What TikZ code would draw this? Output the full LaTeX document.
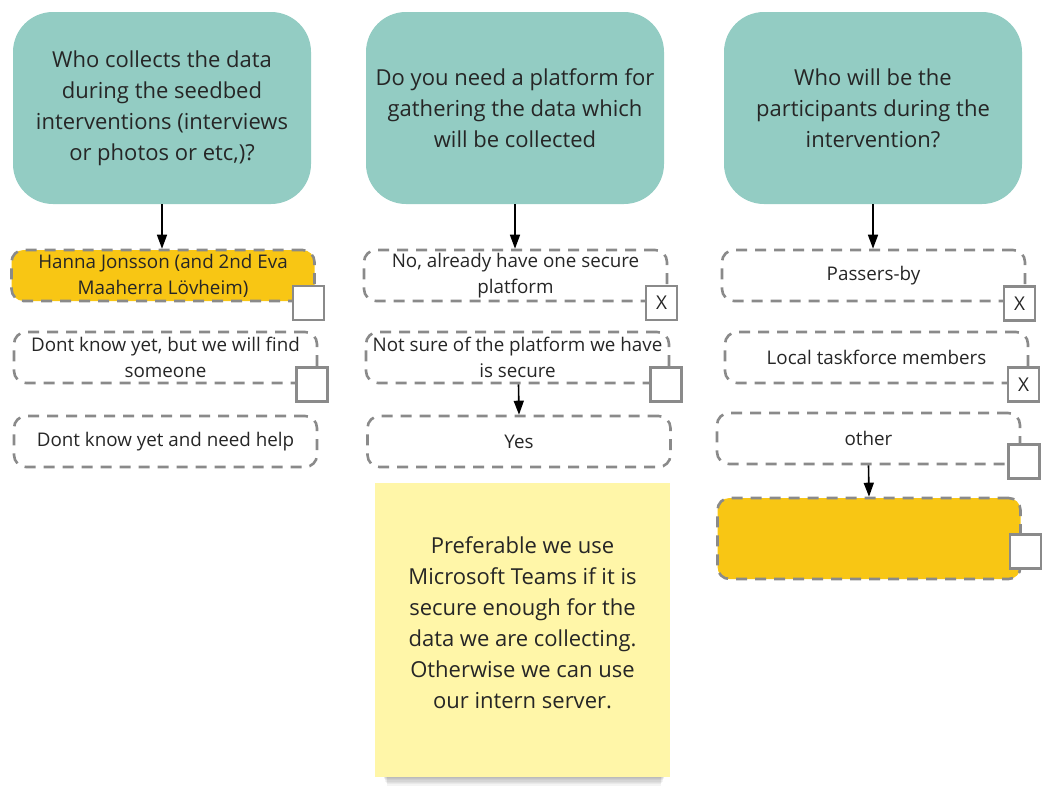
\documentclass[tikz,border=0pt]{standalone}
\usepackage{fontspec}
\setmainfont{Open Sans}
\usetikzlibrary{arrows.meta}
\definecolor{teal1}{HTML}{93CCC3}
\definecolor{gold1}{HTML}{F8C614}
\definecolor{sticky}{HTML}{FFF6A8}
\definecolor{dashgray}{HTML}{8A8A8A}
\definecolor{textc}{HTML}{262626}
\tikzset{
  header/.style={fill=teal1, rounded corners=40pt, minimum width=298pt, minimum height=192pt, align=center, text=textc, inner sep=0pt, font=\fontsize{22}{31}\selectfont},
  optbox/.style={draw=dashgray, line width=2.6pt, dash pattern=on 11pt off 8pt, rounded corners=12pt, minimum width=303pt, minimum height=51pt, align=center, text=textc, inner sep=0pt, font=\fontsize{18.8}{26}\selectfont},
  goldbox/.style={optbox, fill=gold1},
  checkb/.style={draw=dashgray, line width=2.8pt, fill=white, minimum width=31pt, minimum height=34pt, inner sep=0pt, text=textc, font=\fontsize{19}{20}\selectfont},
  arr/.style={draw=black, line width=1.6pt, -{Triangle[length=14pt,width=10pt]}},
  notebox/.style={fill=sticky, minimum width=295pt, minimum height=294pt, inner sep=0pt},
  notetext/.style={align=center, text=textc, inner sep=0pt, font=\fontsize{22}{31}\selectfont}
}
\begin{document}
\begin{tikzpicture}[x=1pt,y=-1pt]
\useasboundingbox (0,0) rectangle (1048,787);
% headers
\node[header] (h1) at (162,108) {Who collects the data\\during the seedbed\\interventions (interviews\\or photos or etc,)?};
\node[header] (h2) at (515,108) {Do you need a platform for\\gathering the data which\\will be collected};
\node[header] (h3) at (873,108) {Who will be the\\participants during the\\intervention?};
% left column
\node[goldbox] (a1) at (163,275.5) {Hanna Jonsson (and 2nd Eva\\Maaherra Lövheim)};
\node[checkb] (ca1) at (308.5,303) {};
\node[optbox] (a2) at (165.5,357.5) {Dont know yet, but we will find\\someone};
\node[checkb] (ca2) at (312,384.5) {};
\node[optbox] (a3) at (165.5,441.5) {Dont know yet and need help};
% middle column
\node[optbox] (b1) at (515.5,275.5) {No, already have one secure\\platform};
\node[checkb] (cb1) at (661.5,303) {X};
\node[optbox] (b2) at (517.5,357.5) {Not sure of the platform we have\\is secure};
\node[checkb] (cb2) at (666,384.5) {};
\node[optbox] (b3) at (519,441.5) {Yes};
% sticky note with shadow
\foreach \i in {1,...,12}{
  \fill[black, opacity=0.045] (380+\i*0.6,700) rectangle (668-\i*0.6,770+\i*1.3);
}
\node[notebox] (note) at (522.5,630) {};
\node[notetext] (nt) at (522.5,623) {Preferable we use\\Microsoft Teams if it is\\secure enough for the\\data we are collecting.\\Otherwise we can use\\our intern server.};
% right column
\node[optbox] (c1) at (873.5,275.5) {Passers-by};
\node[checkb] (cc1) at (1019.5,303.5) {X};
\node[optbox] (c2) at (876.5,357.5) {Local taskforce members};
\node[checkb] (cc2) at (1023.5,384.5) {X};
\node[optbox] (c3) at (868.5,438.5) {other};
\node[checkb] (cc3) at (1024,461.5) {};
\node[goldbox, minimum height=81pt] (c4) at (869,538.5) {};
\node[checkb] (cc4) at (1025.5,551.5) {};
% arrows
\draw[arr] (h1.south) -- (h1.south |- a1.north);
\draw[arr] (h2.south) -- (h2.south |- b1.north);
\draw[arr] (h3.south) -- (h3.south |- c1.north);
\draw[arr] (b2.south) ++(1,0) -- (b3.north);
\draw[arr] (c3.south) -- (c4.north);
\end{tikzpicture}
\end{document}
